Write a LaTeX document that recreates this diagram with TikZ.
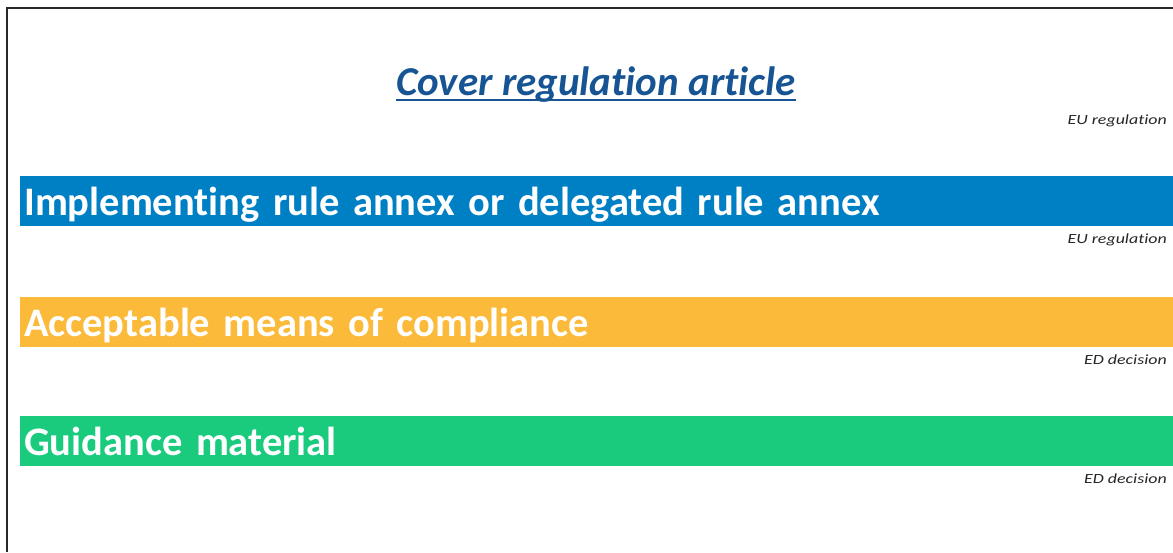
\documentclass[tikz,border=0pt]{standalone}
\usepackage{fontspec}
\setmainfont{Carlito}[Ligatures = NoCommon]
\newfontfamily\srcfont{Carlito}[FakeStretch = 1.28, Ligatures = NoCommon]
\usetikzlibrary{positioning}
\definecolor{titleblue}{RGB}{22,84,148}
\definecolor{irblue}{RGB}{0,128,196}
\definecolor{amcorange}{RGB}{251,186,58}
\definecolor{gmgreen}{RGB}{26,203,126}
\definecolor{framegray}{RGB}{40,40,40}
\tikzset{
	bar/.style = {anchor = north west, minimum height = 50pt, text width = 1145pt,
		text height = 39.5pt, text depth = 10.5pt,
		inner xsep = 4pt, inner ysep = 0pt, align = left, text = white,
		font = \fontsize{40.5}{46}\selectfont\bfseries},
	doclabel/.style = {anchor = base east, inner sep = 0pt, text = black!85,
		font = \fontsize{14}{16}\selectfont\srcfont\itshape},
}
\begin{document}
\begin{tikzpicture}[x = 1pt, y = -1pt]
	\useasboundingbox (0, 0) rectangle (1173, 552);
	\draw [framegray, line width = 2pt] (7, 552) -- (7, 8) -- (1173, 8);
	% title
	\node [anchor = base, inner sep = 0pt, text = titleblue,
		font = \fontsize{41}{46}\selectfont\bfseries\itshape] (cover) at (596, 95) {Cover regulation article};
	\draw [titleblue, line width = 2pt] ([yshift = -5pt]cover.base west) -- ([yshift = -5pt]cover.base east);
	\node [doclabel] (coversrc) at (1167, 124) {EU regulation};
	% bars
	\node [bar, fill = irblue] (ir) at (20, 176) {Implementing rule annex or delegated rule annex};
	\node [doclabel] (irsrc) at (1167, 243) {EU regulation};
	\node [bar, fill = amcorange] (amc) at (20, 297) {Acceptable means of compliance};
	\node [doclabel] (amcsrc) at (1167, 364) {ED decision};
	\node [bar, fill = gmgreen] (gm) at (20, 416) {Guidance material};
	\node [doclabel] (gmsrc) at (1167, 483) {ED decision};
\end{tikzpicture}
\end{document}
